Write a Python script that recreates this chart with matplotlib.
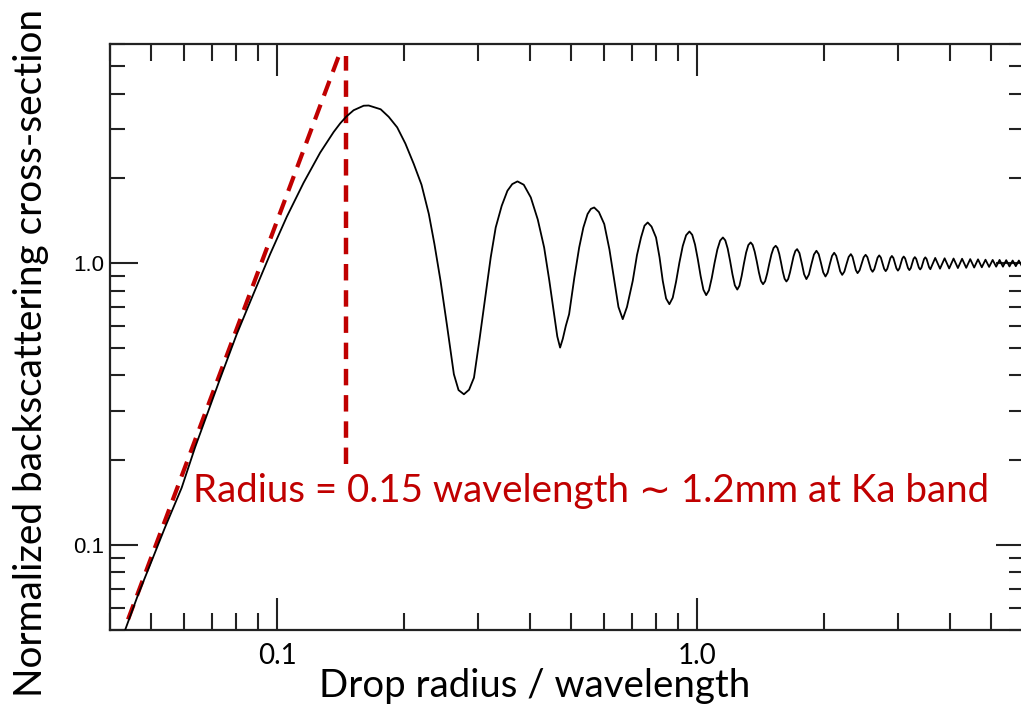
import matplotlib
matplotlib.use("Agg")
import matplotlib.pyplot as plt
from matplotlib.ticker import LogLocator, NullFormatter, FixedLocator, FixedFormatter

# ---------------- data ----------------
# Rayleigh rise up to the main maximum
x_rise = [0.0435, 0.04667, 0.05023, 0.05403, 0.05925, 0.06373, 0.06855, 0.07311,
          0.08013, 0.08777, 0.09623, 0.1055, 0.1156, 0.1266, 0.1363, 0.14132,
          0.1461, 0.1521, 0.1607, 0.1652]
y_rise = [0.0502, 0.0668, 0.0877, 0.1152, 0.1598, 0.2217, 0.2992, 0.3889,
          0.5604, 0.7773, 1.078, 1.466, 1.931, 2.470, 2.923, 3.138,
          3.316, 3.493, 3.624, 3.63]

# first deep lobes (main maximum -> 4th minimum)
x_lobes = [0.17639, 0.18433, 0.1931, 0.20198, 0.2115, 0.22067, 0.2297, 0.23686,
           0.2449, 0.25383, 0.2635, 0.27032, 0.2784, 0.28641, 0.2942, 0.30339,
           0.3136, 0.32248, 0.3314, 0.34251, 0.3534, 0.36285, 0.3734, 0.38651,
           0.4017, 0.41737, 0.4322, 0.44455, 0.4565, 0.46452, 0.4717, 0.47878,
           0.48674, 0.4956, 0.51004, 0.5237, 0.53589, 0.5484, 0.55843, 0.5686,
           0.58352, 0.6009, 0.61819, 0.6349, 0.64953, 0.6650, 0.68060, 0.7025,
           0.71902, 0.7351, 0.74926, 0.7625, 0.77868, 0.7981, 0.81365, 0.8281,
           0.84339, 0.8587]
y_lobes = [3.52, 3.31, 3.037, 2.66, 2.251, 1.90, 1.496, 1.17,
           0.8667, 0.60, 0.4041, 0.355, 0.343, 0.356, 0.3929, 0.54,
           0.7773, 1.05, 1.34, 1.60, 1.809, 1.91, 1.953, 1.90,
           1.713, 1.43, 1.138, 0.87, 0.660, 0.55, 0.5024, 0.54,
           0.60, 0.660, 0.89, 1.138, 1.34, 1.496, 1.56, 1.578,
           1.52, 1.378, 1.12, 0.8667, 0.70, 0.6337, 0.70, 0.8667,
           1.07, 1.235, 1.36, 1.396, 1.35, 1.235, 1.05, 0.8667,
           0.75, 0.7161]

# damped oscillations (4th minimum -> 12th minimum)
x_osc = [0.87468, 0.89087, 0.90733, 0.92407, 0.94122, 0.9585,
         0.97333, 0.98837, 1.00358, 1.01904, 1.03479, 1.0507,
         1.06687, 1.08337, 1.10006, 1.11699, 1.13425, 1.1516,
         1.16676, 1.18216, 1.19772, 1.21349, 1.22935, 1.2460,
         1.26082, 1.27624, 1.29190, 1.30773, 1.32372, 1.3406,
         1.35532, 1.37073, 1.38676, 1.40265, 1.41860, 1.4350,
         1.45143, 1.46830, 1.48533, 1.50257, 1.52000, 1.5380,
         1.55276, 1.56810, 1.58352, 1.59911, 1.61492, 1.6311,
         1.64685, 1.66313, 1.67948, 1.69599, 1.71277, 1.7297,
         1.75189, 1.77437, 1.79723, 1.8200,
         1.84538, 1.87095, 1.89681, 1.9230,
         1.94702, 1.97124, 1.99576, 2.0206,
         2.04494, 2.06946, 2.09438, 2.1194,
         2.14293, 2.16659, 2.19053, 2.2147,
         2.24109, 2.26771, 2.29464, 2.3222,
         2.34340, 2.36505, 2.38701, 2.4093]
y_osc = [0.755, 0.861, 1.007, 1.152, 1.258, 1.297,
         1.262, 1.1655, 1.034, 0.9025, 0.8062, 0.771,
         0.802, 0.887, 1.003, 1.119, 1.204, 1.235,
         1.2063, 1.128, 1.021, 0.914, 0.8357, 0.807,
         0.8324, 0.9018, 0.9965, 1.0913, 1.1606, 1.186,
         1.163, 1.100, 1.0145, 0.929, 0.866, 0.843,
         0.8638, 0.921, 0.9985, 1.076, 1.1332, 1.154,
         1.1344, 1.081, 1.008, 0.935, 0.8816, 0.862,
         0.8795, 0.9273, 0.9925, 1.0578, 1.1055, 1.123,
         1.0873, 1.001, 0.9147, 0.879,
         0.9126, 0.9935, 1.0745, 1.108,
         1.0772, 1.003, 0.9288, 0.898,
         0.9261, 0.994, 1.0619, 1.090,
         1.0636, 1.000, 0.9364, 0.910,
         0.9346, 0.994, 1.0534, 1.078,
         1.0553, 1.0005, 0.9457, 0.923]

# fine ripple towards the optical limit
x_ripple = [2.4365, 2.4908, 2.518, 2.5425, 2.5915, 2.616, 2.6403, 2.6888, 2.713,
            2.7375, 2.7865, 2.811, 2.8353, 2.8838, 2.908, 2.9325, 2.9815, 3.006,
            3.0303, 3.0788, 3.103, 3.1275, 3.1765, 3.201, 3.2253, 3.2738, 3.298,
            3.3225, 3.3715, 3.396, 3.4203, 3.4688, 3.493, 3.5173, 3.5668, 3.591,
            3.688, 3.786, 3.883, 3.981, 4.078, 4.176, 4.273, 4.371,
            4.468, 4.566, 4.663, 4.761, 4.858, 4.956, 5.053, 5.151, 5.248, 5.346,
            5.443, 5.541, 5.638, 5.736, 5.833, 5.931, 6.0]
y_ripple = [0.9448, 1.0502, 1.072, 1.0516, 0.9534, 0.933, 0.9526, 1.0474, 1.067,
            1.0481, 0.9569, 0.938, 0.9562, 1.0438, 1.062, 1.0444, 0.9596, 0.942,
            0.9588, 1.0402, 1.057, 1.0407, 0.9623, 0.946, 0.9615, 1.0365, 1.052,
            1.0372, 0.9658, 0.951, 0.9655, 1.0355, 1.050, 1.0358, 0.9672, 0.953,
            1.045, 0.957, 1.042, 0.959, 1.040, 0.962, 1.038, 0.964,
            1.035, 0.966, 1.033, 0.968, 1.030, 0.971, 1.028, 0.973, 1.028, 0.973,
            1.026, 0.975, 1.023, 0.977, 1.023, 0.977, 1.0]

# Rayleigh asymptote (red dashed) and marker at radius = 0.15 wavelength
x_asym = [0.04416, 0.1408]
y_asym = [0.0545, 5.535]
x_mark = [0.1461, 0.1461]
y_mark = [0.1944, 5.46]

x_ticks = [0.1, 1.0]
x_ticklabels = ["0.1", "1.0"]
y_ticks = [0.1, 1.0]
y_ticklabels = ["0.1", "1.0"]

xlabel = "Drop radius / wavelength"
ylabel = "Normalized backscattering cross-section"
note = "Radius = 0.15 wavelength \u223c 1.2mm at Ka band"

# ---------------- figure ----------------
W, H = 1021, 707
fig = plt.figure(figsize=(W / 100, H / 100), dpi=100)
fig.patch.set_facecolor("white")

L, R, T, B = 110, 1024, 44, 630
ax = fig.add_axes([L / W, (H - B) / H, (R - L) / W, (B - T) / H])
ax.set_xscale("log")
ax.set_yscale("log")
ax.set_xlim(0.04, 6.0)
ax.set_ylim(0.05, 6.0)

xs = x_rise + x_lobes + x_osc + x_ripple
ys = y_rise + y_lobes + y_osc + y_ripple
ax.plot(xs, ys, color="black", lw=1.3, solid_joinstyle="round", zorder=3)

red = "#C00000"
ax.plot(x_asym, y_asym, color=red, lw=3.0, linestyle=(0, (3.8, 2.3)), zorder=2)
ax.plot(x_mark, y_mark, color=red, lw=3.2, linestyle=(0, (3.7, 2.2)), zorder=2)

for s in ax.spines.values():
    s.set_linewidth(1.6)
    s.set_color("#222222")

ax.xaxis.set_major_locator(FixedLocator(x_ticks))
ax.xaxis.set_major_formatter(FixedFormatter(x_ticklabels))
ax.yaxis.set_major_locator(FixedLocator(y_ticks))
ax.yaxis.set_major_formatter(FixedFormatter(y_ticklabels))
ax.xaxis.set_minor_locator(LogLocator(base=10, subs=range(2, 10), numticks=20))
ax.yaxis.set_minor_locator(LogLocator(base=10, subs=range(2, 10), numticks=20))
ax.xaxis.set_minor_formatter(NullFormatter())
ax.yaxis.set_minor_formatter(NullFormatter())

ax.tick_params(axis="both", which="both", direction="in", top=True, right=True,
               color="#222222", width=1.5)
ax.tick_params(axis="x", which="major", length=23, pad=9,
               labelsize=20, labelfontfamily="Lato")
ax.tick_params(axis="x", which="minor", length=12)
ax.tick_params(axis="y", which="major", length=20, pad=4,
               labelsize=16, labelfontfamily="Liberation Sans")
ax.tick_params(axis="y", which="minor", length=10.5)

fam = ["Lato", "DejaVu Sans"]
tx = fig.text(535 / W, (H - 686) / H, xlabel, ha="center", va="center",
              fontsize=28, family=fam, color="black")
ty = fig.text(31 / W, (H - 353) / H, ylabel, ha="center", va="center",
              rotation=90, fontsize=28, family=fam, color="black")
tn = fig.text(193 / W, (H - 502) / H, note, ha="left", va="baseline",
              fontsize=28, family=fam, color=red)

fig.canvas.draw()
r = fig.canvas.get_renderer()
def fit(t, target, use_h=False):
    bb = t.get_window_extent(r)
    cur = bb.height if use_h else bb.width
    t.set_fontsize(t.get_fontsize() * target / cur)

fit(tx, 431)
fit(ty, 687, use_h=True)
fit(tn, 795)

fig.savefig("out.png", dpi=100, facecolor="white")
